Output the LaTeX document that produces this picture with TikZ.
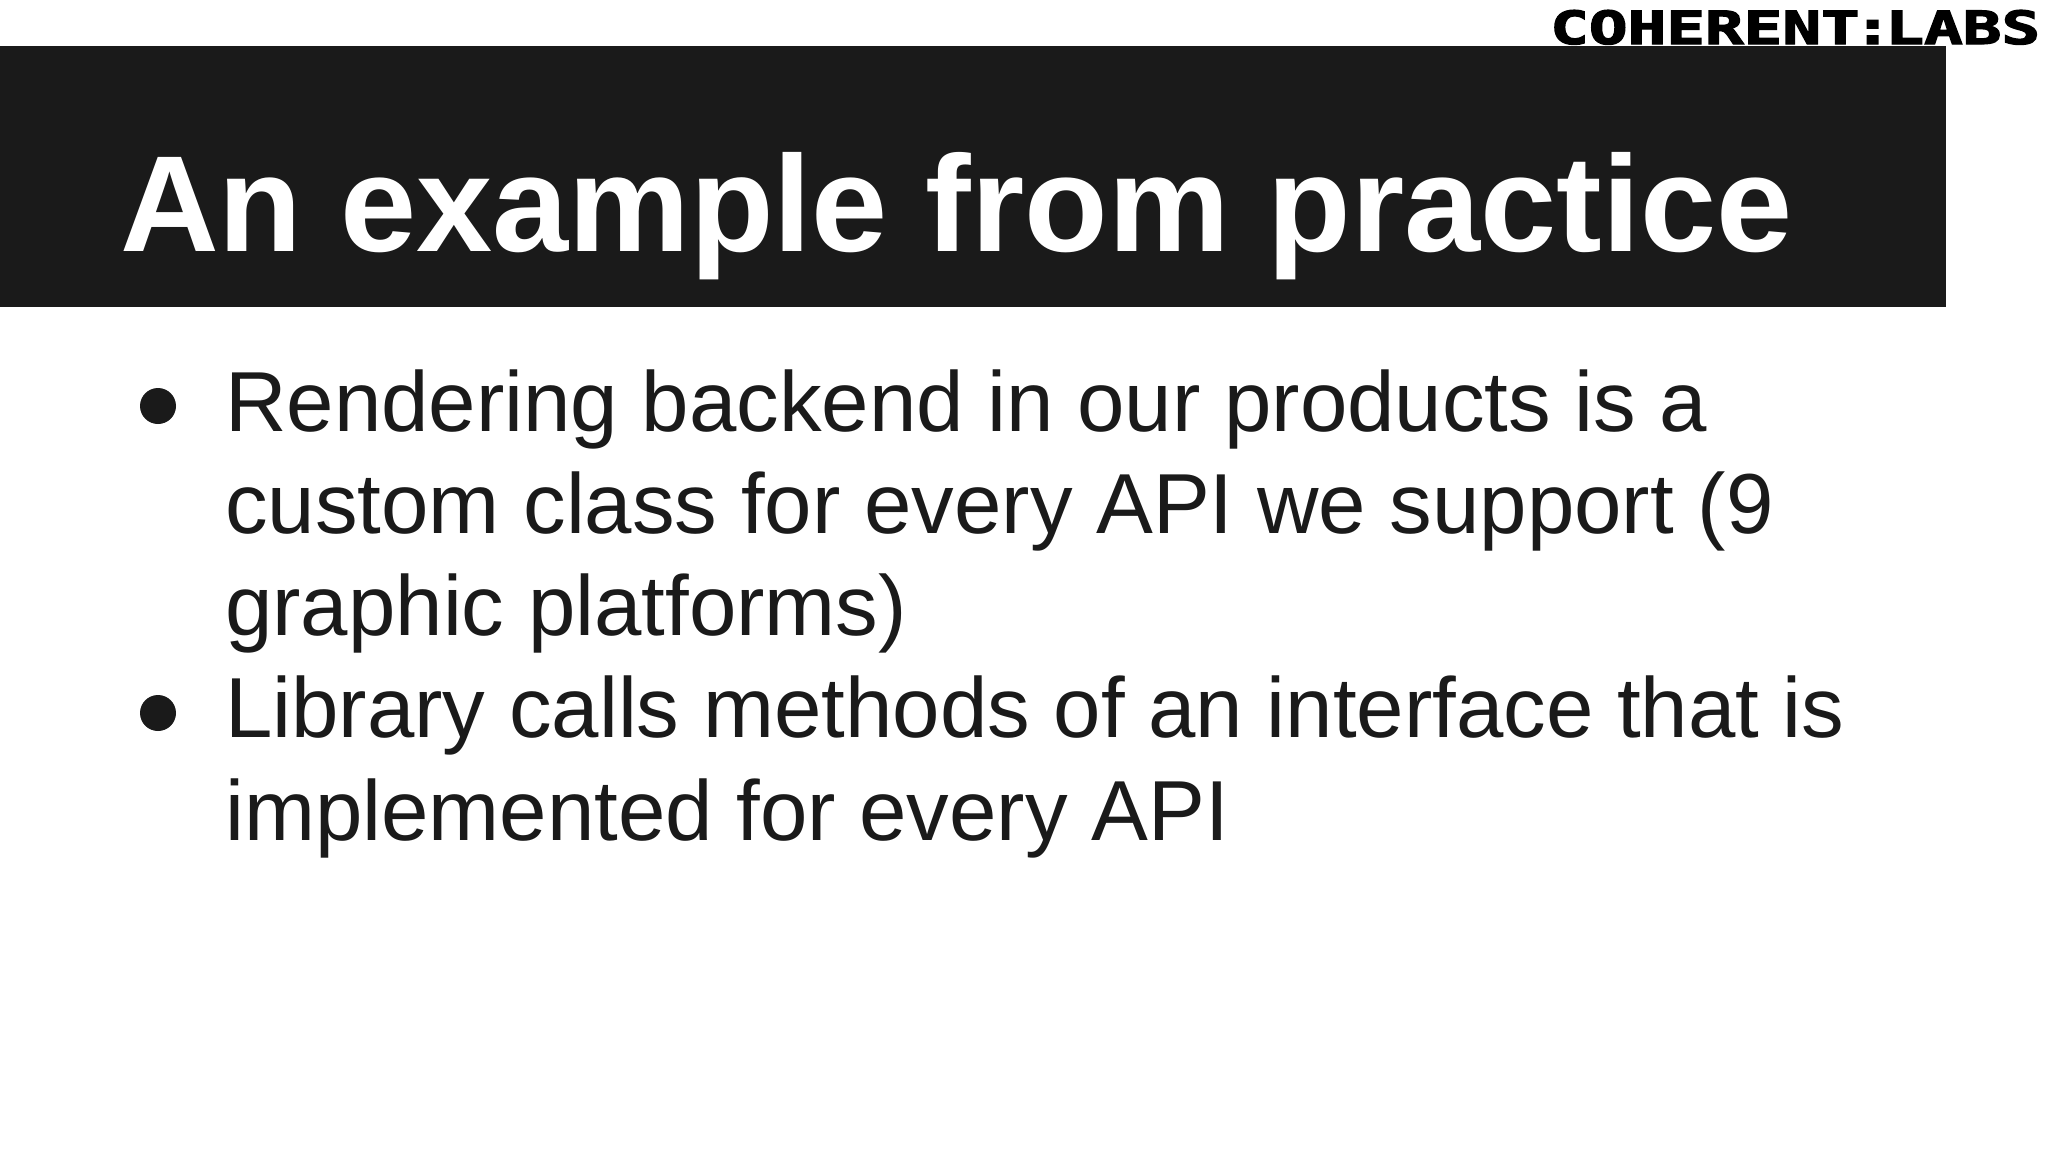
\documentclass[tikz,border=0pt]{standalone}
\usepackage{fontspec}
\setmainfont{Liberation Sans}
\newfontfamily\logofont[FakeBold=2.5]{DejaVu Sans Mono Bold}
\definecolor{ink}{HTML}{1A1A1A}
\tikzset{
  title/.style={anchor=base west,inner sep=0pt,text=white,font=\fontsize{136.8}{137}\selectfont\bfseries},
  body/.style={anchor=base west,inner sep=0pt,text=ink,font=\fontsize{85.2}{85}\selectfont},
  dot/.style={fill=ink,draw=none},
  logo/.style={anchor=base west,inner sep=0pt,text=black,font=\logofont\fontsize{40}{40}\selectfont}
}
\begin{document}
\begin{tikzpicture}[x=1pt,y=-1pt]
\useasboundingbox (0,0) rectangle (2048,1152);
\fill[white] (0,0) rectangle (2048,1152);
\fill[ink] (0,46) rectangle (1946,307);
\node[logo] (logo) at (1550,44) {\resizebox{490pt}{34pt}{COHERENT\makebox[0.4em]{:}LABS}};
\node[title] (t) at (120,251) {An example from practice};
\fill[dot] (158,406) ellipse [x radius=18,y radius=18];
\fill[dot] (158,713) ellipse [x radius=18,y radius=18];
\node[body] (l1) at (225,431) {Rendering backend in our products is a};
\node[body] (l2) at (225,533) {custom class for every API we support (9};
\node[body] (l3) at (225,635.5) {graphic platforms)};
\node[body] (l4) at (225,737.7) {Library calls methods of an interface that is};
\node[body] (l5) at (225,840) {implemented for every API};
\end{tikzpicture}
\end{document}
